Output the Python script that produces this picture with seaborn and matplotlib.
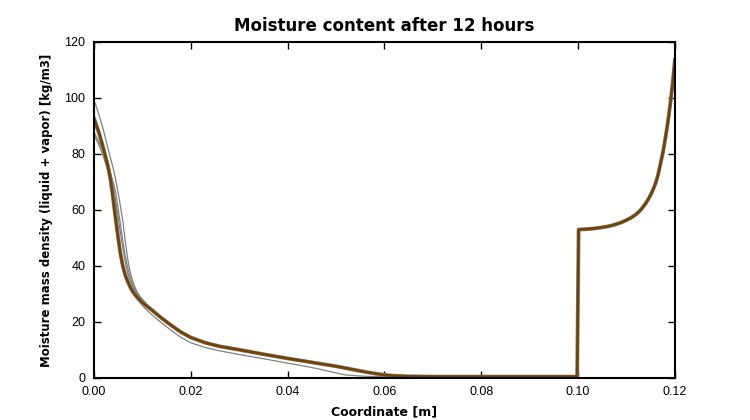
import numpy as np
import pandas as pd
import seaborn as sns
import matplotlib
matplotlib.use("Agg")
import matplotlib.pyplot as plt

# shared parts of the profiles
x_tail = [0.013, 0.014, 0.016, 0.018, 0.020, 0.023, 0.026, 0.030, 0.035, 0.040, 0.045,
          0.050, 0.053, 0.056, 0.058, 0.060, 0.062, 0.065, 0.070, 0.0998]
y_tail = [22.8, 21.4, 18.8, 16.4, 14.5, 12.6, 11.3, 10.1, 8.5, 7.0, 5.6,
          4.2, 3.2, 2.2, 1.6, 1.1, 0.8, 0.6, 0.5, 0.5]
x_right = [0.1001, 0.101, 0.102, 0.103, 0.104, 0.105, 0.106, 0.107, 0.108, 0.109, 0.110,
           0.111, 0.112, 0.1125, 0.113, 0.1135, 0.114, 0.1145, 0.115, 0.1155, 0.116,
           0.1165, 0.117, 0.1175, 0.118, 0.1185, 0.119, 0.1195, 0.12]
y_right = [53.0, 53.1, 53.2, 53.35, 53.55, 53.8, 54.1, 54.5, 55.0, 55.6, 56.4,
           57.3, 58.5, 59.3, 60.2, 61.3, 62.5, 63.9, 65.5, 67.4, 69.6,
           72.5, 76.5, 80.5, 85.5, 91.0, 97.5, 105.0, 114.0]

# front of the final profile
x_front = [0.0, 0.0005, 0.001, 0.0015, 0.002, 0.0025, 0.003, 0.0035, 0.004, 0.0045, 0.005,
           0.0055, 0.006, 0.0065, 0.007, 0.0075, 0.008, 0.0085, 0.009, 0.0095, 0.010, 0.011, 0.012]
y_main = [93.0, 90.5, 88.0, 85.0, 82.0, 78.5, 75.0, 70.5, 64.0, 57.0, 50.5,
          44.5, 40.0, 36.8, 34.5, 32.6, 31.0, 29.8, 28.8, 27.9, 27.0, 25.6, 24.3]

# earlier iterations (thin grey)
x_g = [0.0, 0.001, 0.002, 0.003, 0.004, 0.0045, 0.005, 0.0055, 0.006, 0.0065, 0.007,
       0.0075, 0.008, 0.0085, 0.009, 0.0095, 0.010, 0.011, 0.012]
y_g1 = [99.5, 94.5, 88.5, 81.5, 75.0, 71.0, 66.5, 61.5, 56.0, 49.0, 42.5,
        38.0, 34.8, 32.4, 30.6, 29.3, 28.2, 26.3, 24.6]
y_g2 = [88.0, 84.5, 80.5, 75.5, 70.0, 66.5, 61.0, 55.0, 49.0, 43.5, 39.5,
        36.0, 33.5, 31.6, 30.1, 28.9, 27.9, 26.1, 24.5]
y_g3 = [87.0, 83.5, 79.0, 74.0, 68.0, 63.5, 58.0, 52.0, 46.5, 41.5, 37.5,
        34.6, 32.5, 30.9, 29.6, 28.5, 27.6, 25.9, 24.4]
x_g4 = [0.0, 0.001, 0.002, 0.003, 0.004, 0.0045, 0.005, 0.0055, 0.006, 0.0065, 0.007,
        0.0075, 0.008, 0.0085, 0.009, 0.0095, 0.010, 0.011, 0.012, 0.013, 0.014, 0.016,
        0.018, 0.020, 0.023, 0.026, 0.030, 0.035, 0.040, 0.043, 0.046, 0.049, 0.052,
        0.055, 0.058, 0.070, 0.0998]
y_g4 = [91.0, 87.0, 82.5, 77.0, 69.0, 62.0, 54.0, 47.0, 41.5, 37.5, 34.5,
        32.3, 30.6, 29.2, 28.0, 27.0, 26.0, 24.2, 22.6, 21.1, 19.7, 17.0,
        14.5, 12.6, 10.9, 9.7, 8.4, 6.9, 5.3, 4.4, 3.4, 2.2, 1.1,
        0.7, 0.5, 0.5, 0.5]

sns.set_style("ticks")
plt.rcParams.update({
    "xtick.direction": "in", "ytick.direction": "in",
    "xtick.top": True, "ytick.right": True,
    "xtick.major.size": 5, "ytick.major.size": 5,
    "xtick.major.width": 1, "ytick.major.width": 1,
    "axes.linewidth": 1.5, "axes.edgecolor": "black",
    "text.color": "black", "axes.labelcolor": "black",
    "xtick.color": "black", "ytick.color": "black",
})
plt.rcParams["font.family"] = ["DejaVu Sans"]

fig, ax = plt.subplots(figsize=(7.5, 4.2), dpi=100)
fig.subplots_adjust(left=0.125, right=0.9, bottom=0.1, top=0.9)

grey = "#808080"
brown = "#744300"
for ys in [y_g1, y_g2, y_g3]:
    sns.lineplot(x=x_g + x_tail + x_right, y=ys + y_tail + y_right, ax=ax,
                 color=grey, lw=0.9, sort=False, estimator=None)
sns.lineplot(x=x_g4 + x_right, y=y_g4 + y_right, ax=ax,
             color=grey, lw=0.9, sort=False, estimator=None)
sns.lineplot(x=x_front + x_tail + x_right, y=y_main + y_tail + y_right, ax=ax,
             color=grey, lw=2.8, sort=False, estimator=None)
sns.lineplot(x=x_front + x_tail + x_right, y=y_main + y_tail + y_right, ax=ax,
             color=brown, lw=1.9, sort=False, estimator=None)

ax.set_xlim(0, 0.12)
ax.set_ylim(0, 120)
ax.set_xticks(np.arange(0, 0.1201, 0.02))
ax.set_yticks(range(0, 121, 20))
ax.xaxis.set_major_formatter(matplotlib.ticker.FormatStrFormatter("%.2f"))
for lab in ax.get_xticklabels() + ax.get_yticklabels():
    lab.set_family(["Liberation Sans Narrow", "Liberation Sans", "DejaVu Sans"])
    lab.set_fontsize(9)
ax.tick_params(pad=6)

ax.set_title("Moisture content after 12 hours", fontsize=12, fontweight="bold", pad=8)
ax.set_xlabel("Coordinate [m]", fontsize=9, fontweight="bold", labelpad=5)
ax.set_ylabel("Moisture mass density (liquid + vapor) [kg/m3]", fontsize=8.5,
              fontweight="bold", labelpad=8)

fig.savefig("out.png", dpi=100)
